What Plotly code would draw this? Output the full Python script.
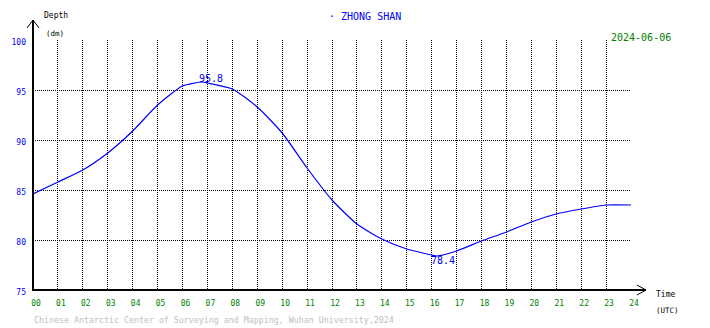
import plotly.graph_objects as go

# ---- data ----
hours = [0, 1, 2, 3, 4, 5, 6, 6.8, 7, 8, 9, 10, 11, 12, 13, 14, 15, 16, 16.2,
         17, 18, 19, 20, 21, 22, 23, 24]
depth = [84.6, 85.8, 87.0, 88.7, 90.9, 93.5, 95.4, 95.8, 95.7, 95.1, 93.3, 90.7,
         87.2, 84.0, 81.6, 80.1, 79.1, 78.5, 78.4, 78.9, 79.9, 80.8, 81.8, 82.6,
         83.1, 83.5, 83.5]
x_ticks = list(range(0, 25))
x_tick_text = [f"{h:02d}" for h in x_ticks]
y_ticks = [75, 80, 85, 90, 95, 100]
station = "ZHONG SHAN"
date_label = "2024-06-06"
footer = "Chinese Antarctic Center of Surveying and Mapping, Wuhan University,2024"

# ---- layout geometry (pixels) ----
W, H = 710, 328
L, R, T, B = 31, 631, 40, 290
PW, PH = R - L, B - T


def px(x):
    return (x - L) / PW


def py(y):
    return (B - y) / PH


FONT = "DejaVu Sans Mono"
BLUE = "#0000ff"
GREEN = "#008000"

fig = go.Figure()
fig.add_trace(go.Scatter(x=hours, y=depth, mode="lines",
                         line=dict(color=BLUE, width=1.2, shape="spline", smoothing=0.6),
                         hoverinfo="skip", showlegend=False))

imax = depth.index(max(depth))
imin = depth.index(min(depth))


def label(xp, yp, text, size, color, xanchor="center"):
    return dict(x=px(xp), y=py(yp), xref="paper", yref="paper", text=text,
                xanchor=xanchor, yanchor="middle", showarrow=False,
                font=dict(family=FONT, size=size, color=color))


annotations = [
    dict(x=hours[imax] + 0.36, y=depth[imax] + 0.4, xref="x", yref="y",
         xanchor="center", yanchor="middle",
         text=f"{depth[imax]:.1f}", showarrow=False,
         font=dict(family=FONT, size=10, color=BLUE)),
    dict(x=hours[imin] + 0.26, y=depth[imin] - 0.45, xref="x", yref="y",
         xanchor="center", yanchor="middle",
         text=f"{depth[imin]:.1f}", showarrow=False,
         font=dict(family=FONT, size=10, color=BLUE)),
    label(364, 17, "\u00b7 " + station, 10, BLUE),
    label(641.5, 37, date_label, 10, GREEN),
    label(40, 16, "Depth", 8, "black", "left"),
    label(42, 34, "(dm)", 7.5, "black", "left"),
    label(654, 294, "Time", 8, "black", "left"),
    label(654, 310, "(UTC)", 7.5, "black", "left"),
    label(30, 320, footer, 8.3, "#c0c0c0", "left"),
]

axline = dict(color="black", width=2)
arrow = dict(color="black", width=1)
shapes = [
    # y axis with open arrowhead
    dict(type="line", xref="paper", yref="paper", x0=px(31), y0=py(291), x1=px(31), y1=py(20), line=axline),
    dict(type="line", xref="paper", yref="paper", x0=px(25), y0=py(28), x1=px(31), y1=py(20), line=arrow),
    dict(type="line", xref="paper", yref="paper", x0=px(37), y0=py(28), x1=px(31), y1=py(20), line=arrow),
    # x axis with open arrowhead
    dict(type="line", xref="paper", yref="paper", x0=px(30), y0=py(290), x1=px(646), y1=py(290), line=axline),
    dict(type="line", xref="paper", yref="paper", x0=px(637), y0=py(285), x1=px(646), y1=py(290), line=arrow),
    dict(type="line", xref="paper", yref="paper", x0=px(637), y0=py(295), x1=px(646), y1=py(290), line=arrow),
]

fig.update_layout(
    width=W, height=H,
    margin=dict(l=L, r=W - R, t=T, b=H - B, pad=0),
    paper_bgcolor="white", plot_bgcolor="white",
    showlegend=False,
    annotations=annotations,
    shapes=shapes,
    xaxis=dict(range=[0, 24], tickvals=x_ticks, ticktext=x_tick_text,
               showgrid=True, gridcolor="black", gridwidth=1, griddash="1px,1px",
               zeroline=False, showline=False, ticks="",
               ticklabelstandoff=7, ticklabelshift=3,
               tickfont=dict(family=FONT, size=8, color=GREEN), fixedrange=True),
    yaxis=dict(range=[75, 100], tickvals=y_ticks,
               showgrid=True, gridcolor="black", gridwidth=1, griddash="1px,1px",
               zeroline=False, showline=False, ticks="",
               ticklabelstandoff=6, ticklabelshift=2,
               tickfont=dict(family=FONT, size=8, color=BLUE), fixedrange=True),
)

fig.write_html("out.html", config={"displayModeBar": False})
